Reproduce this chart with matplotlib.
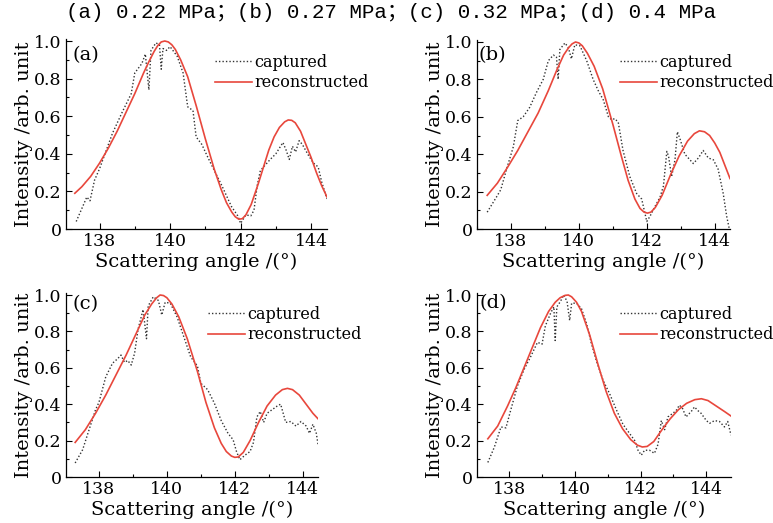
import matplotlib
matplotlib.use("Agg")
import matplotlib.pyplot as plt
from matplotlib.ticker import MultipleLocator, FixedLocator

# ---------------- data ----------------
title_text = "(a) 0.22 MPa；(b) 0.27 MPa；(c) 0.32 MPa；(d) 0.4 MPa"
panel_labels = ["(a)", "(b)", "(c)", "(d)"]
series_names = ["captured", "reconstructed"]
x_label = "Scattering angle /(°)"
y_label = "Intensity /arb. unit"
x_ticks = [138, 140, 142, 144]
y_ticks = [0, 0.2, 0.4, 0.6, 0.8, 1.0]
y_tick_labels = ["0", "0.2", "0.4", "0.6", "0.8", "1.0"]

# panel (a)
rec_a_x = [137.3, 137.5, 137.75, 138.0, 138.25, 138.5, 138.75, 139.0, 139.25, 139.4, 139.55, 139.65,
           139.75, 139.85, 139.95, 140.05, 140.15, 140.3, 140.5, 140.75, 141.0, 141.25, 141.45,
           141.6, 141.75, 141.85, 141.95, 142.05, 142.15, 142.3, 142.5, 142.65, 142.8, 142.95,
           143.1, 143.25, 143.35, 143.45, 143.55, 143.7, 143.85, 144.0, 144.15, 144.3, 144.45]
rec_a_y = [0.19, 0.225, 0.28, 0.35, 0.43, 0.52, 0.62, 0.72, 0.83, 0.89, 0.945, 0.975,
           0.995, 1.0, 0.995, 0.98, 0.955, 0.90, 0.81, 0.65, 0.48, 0.32, 0.21,
           0.14, 0.09, 0.065, 0.052, 0.055, 0.075, 0.13, 0.24, 0.33, 0.42, 0.49,
           0.54, 0.57, 0.58, 0.578, 0.565, 0.52, 0.45, 0.38, 0.30, 0.23, 0.17]
cap_a_x = [137.34, 137.64, 137.73, 137.86, 138.0, 138.37, 138.64, 138.9, 139.0, 139.2, 139.3, 139.4,
           139.46, 139.6, 139.7, 139.75, 139.8, 139.9, 140.0, 140.2, 140.37, 140.5, 140.65, 140.74,
           140.9, 141.1, 141.47, 141.74, 141.92, 142.0, 142.15, 142.29, 142.38, 142.47, 142.56,
           142.65, 142.84, 143.0, 143.2, 143.29, 143.38, 143.47, 143.56, 143.66, 143.75, 143.84,
           143.93, 144.07, 144.2, 144.3, 144.45]
cap_a_y = [0.04, 0.17, 0.15, 0.26, 0.32, 0.51, 0.62, 0.72, 0.83, 0.88, 0.93, 0.74,
           0.95, 0.99, 0.98, 0.85, 0.96, 0.95, 0.97, 0.92, 0.83, 0.65, 0.63, 0.49,
           0.45, 0.37, 0.23, 0.12, 0.07, 0.03, 0.075, 0.07, 0.10, 0.23, 0.31,
           0.33, 0.37, 0.40, 0.46, 0.42, 0.37, 0.44, 0.41, 0.47, 0.45, 0.42,
           0.39, 0.35, 0.33, 0.25, 0.16]

# panel (b)
rec_b_x = [137.3, 137.6, 137.9, 138.2, 138.5, 138.8, 139.1, 139.35, 139.55, 139.7, 139.8, 139.9,
           140.0, 140.1, 140.25, 140.45, 140.7, 141.0, 141.25, 141.45, 141.65, 141.8, 141.92,
           142.02, 142.12, 142.25, 142.45, 142.7, 142.95, 143.2, 143.4, 143.55, 143.7, 143.85,
           144.0, 144.15, 144.3, 144.45]
rec_b_y = [0.18, 0.245, 0.33, 0.42, 0.52, 0.62, 0.74, 0.85, 0.93, 0.97, 0.99, 1.0,
           0.995, 0.98, 0.94, 0.87, 0.75, 0.56, 0.39, 0.26, 0.16, 0.11, 0.09,
           0.085, 0.09, 0.115, 0.18, 0.29, 0.39, 0.47, 0.51, 0.525, 0.52, 0.50,
           0.46, 0.41, 0.34, 0.27]
cap_b_x = [137.3, 137.57, 137.7, 137.87, 138.07, 138.2, 138.36, 138.55, 138.75, 138.95, 139.1,
           139.25, 139.34, 139.39, 139.44, 139.59, 139.69, 139.78, 139.88, 140.03, 140.23, 140.42,
           140.57, 140.72, 140.87, 140.96, 141.06, 141.16, 141.3, 141.5, 141.7, 141.85, 142.0,
           142.1, 142.24, 142.39, 142.49, 142.59, 142.64, 142.73, 142.83, 142.9, 142.98, 143.12,
           143.27, 143.37, 143.52, 143.66, 143.81, 143.96, 144.1, 144.25, 144.35, 144.43]
cap_b_y = [0.09, 0.17, 0.21, 0.32, 0.44, 0.58, 0.60, 0.65, 0.73, 0.80, 0.90,
           0.93, 0.92, 0.80, 0.96, 0.995, 0.97, 0.91, 0.985, 0.98, 0.90, 0.80,
           0.74, 0.69, 0.60, 0.585, 0.59, 0.57, 0.42, 0.28, 0.19, 0.16, 0.04,
           0.07, 0.12, 0.17, 0.23, 0.415, 0.39, 0.28, 0.37, 0.52, 0.48, 0.40,
           0.37, 0.35, 0.38, 0.42, 0.38, 0.37, 0.32, 0.19, 0.07, 0.0]

# panel (c)
rec_c_x = [137.3, 137.6, 137.9, 138.2, 138.5, 138.8, 139.1, 139.35, 139.55, 139.7, 139.8, 139.9,
           140.0, 140.15, 140.35, 140.6, 140.9, 141.15, 141.4, 141.6, 141.75, 141.9, 142.0, 142.1,
           142.25, 142.45, 142.7, 142.95, 143.2, 143.4, 143.55, 143.7, 143.9, 144.1, 144.3, 144.45]
rec_c_y = [0.19, 0.26, 0.35, 0.45, 0.56, 0.67, 0.79, 0.89, 0.95, 0.985, 1.0, 0.997,
           0.985, 0.95, 0.88, 0.76, 0.58, 0.41, 0.27, 0.185, 0.14, 0.115, 0.108, 0.11,
           0.135, 0.20, 0.30, 0.39, 0.45, 0.48, 0.487, 0.48, 0.45, 0.40, 0.35, 0.32]
cap_c_x = [137.3, 137.52, 137.71, 137.9, 138.0, 138.2, 138.4, 138.55, 138.65, 138.75, 138.85,
           138.95, 139.05, 139.15, 139.3, 139.4, 139.45, 139.6, 139.75, 139.85, 139.95, 140.1,
           140.3, 140.5, 140.7, 140.9, 141.0, 141.2, 141.4, 141.6, 141.8, 141.95, 142.05, 142.15,
           142.3, 142.45, 142.55, 142.65, 142.75, 142.85, 142.95, 143.1, 143.25, 143.35, 143.5,
           143.65, 143.8, 143.95, 144.1, 144.2, 144.3, 144.4, 144.45]
cap_c_y = [0.077, 0.15, 0.26, 0.37, 0.41, 0.55, 0.625, 0.65, 0.67, 0.63, 0.64,
           0.615, 0.68, 0.81, 0.92, 0.76, 0.94, 0.99, 0.97, 0.89, 0.96, 0.955,
           0.88, 0.77, 0.66, 0.61, 0.515, 0.48, 0.405, 0.31, 0.24, 0.205, 0.14, 0.095,
           0.12, 0.14, 0.19, 0.33, 0.36, 0.30, 0.35, 0.37, 0.39, 0.40, 0.30,
           0.305, 0.28, 0.305, 0.28, 0.24, 0.29, 0.24, 0.18]

# panel (d)
rec_d_x = [137.35, 137.65, 137.95, 138.2, 138.45, 138.7, 138.95, 139.2, 139.4, 139.55, 139.7, 139.8,
           139.9, 140.05, 140.2, 140.45, 140.7, 140.95, 141.2, 141.45, 141.7, 141.9, 142.05, 142.2,
           142.4, 142.65, 142.9, 143.15, 143.4, 143.65, 143.85, 144.05, 144.3, 144.55, 144.75]
rec_d_y = [0.21, 0.28, 0.39, 0.49, 0.60, 0.71, 0.82, 0.91, 0.96, 0.985, 0.998, 1.0,
           0.99, 0.96, 0.91, 0.78, 0.62, 0.47, 0.35, 0.265, 0.205, 0.175, 0.165, 0.168,
           0.195, 0.26, 0.32, 0.37, 0.405, 0.425, 0.43, 0.42, 0.39, 0.36, 0.335]
cap_d_x = [137.35, 137.55, 137.75, 137.9, 138.05, 138.25, 138.45, 138.65, 138.86, 139.0, 139.1,
           139.26, 139.36, 139.4, 139.45, 139.56, 139.66, 139.76, 139.84, 139.9, 140.05, 140.2,
           140.35, 140.5, 140.65, 140.86, 141.05, 141.26, 141.46, 141.66, 141.82, 141.92, 142.02,
           142.12, 142.27, 142.42, 142.53, 142.63, 142.73, 142.83, 142.98, 143.08, 143.18, 143.28,
           143.38, 143.54, 143.64, 143.74, 143.84, 144.0, 144.1, 144.25, 144.4, 144.55, 144.65,
           144.75]
cap_d_y = [0.08, 0.165, 0.275, 0.27, 0.37, 0.50, 0.59, 0.66, 0.74, 0.73, 0.83,
           0.90, 0.935, 0.75, 0.935, 0.965, 1.0, 0.965, 0.86, 0.955, 0.955, 0.925,
           0.845, 0.735, 0.64, 0.53, 0.46, 0.37, 0.29, 0.24, 0.20, 0.147, 0.12,
           0.147, 0.147, 0.13, 0.18, 0.31, 0.26, 0.33, 0.35, 0.365, 0.395, 0.375,
           0.33, 0.36, 0.385, 0.365, 0.35, 0.31, 0.295, 0.31, 0.305, 0.275, 0.305,
           0.23]

panels = [
    (cap_a_x, cap_a_y, rec_a_x, rec_a_y),
    (cap_b_x, cap_b_y, rec_b_x, rec_b_y),
    (cap_c_x, cap_c_y, rec_c_x, rec_c_y),
    (cap_d_x, cap_d_y, rec_d_x, rec_d_y),
]

# ---------------- layout / style ----------------
W, H = 773, 523
plt.rcParams['font.family'] = ['DejaVu Serif']
plt.rcParams['mathtext.fontset'] = 'dejavuserif'

fig = plt.figure(figsize=(W / 100, H / 100), dpi=100)

# axes boxes in pixels: left, right, y(at 0), y(at 1.0)
boxes = [(66, 327, 229, 41), (477, 730, 229, 42), (66, 318, 477, 295), (477, 731, 477, 295)]
xlims = [(137.05, 144.45), (137.0, 144.45), (137.03, 144.45), (137.02, 144.75)]
legend_pos = [(215, 54), (620, 54), (208, 306), (620, 306)]
label_pos = [(72, 55), (478, 55), (73, 304), (479, 303)]

red = '#e8473c'
for i, (cx, cy, rx, ry) in enumerate(panels):
    l, r, y0, y1 = boxes[i]
    ymax = 1.01
    top = y0 - (y0 - y1) * ymax
    ax = fig.add_axes([l / W, 1 - y0 / H, (r - l) / W, (y0 - top) / H])
    ax.plot(cx, cy, color='#333333', lw=1.0, ls=(0, (1, 1.5)), label=series_names[0])
    ax.plot(rx, ry, color=red, lw=1.2, label=series_names[1], solid_joinstyle='round')
    ax.set_xlim(*xlims[i])
    ax.set_ylim(0, ymax)
    ax.spines['top'].set_visible(False)
    ax.spines['right'].set_visible(False)
    ax.spines['left'].set_linewidth(0.9)
    ax.spines['bottom'].set_linewidth(0.9)
    ax.xaxis.set_major_locator(FixedLocator(x_ticks))
    ax.xaxis.set_minor_locator(MultipleLocator(1))
    ax.yaxis.set_major_locator(FixedLocator(y_ticks))
    ax.yaxis.set_minor_locator(MultipleLocator(0.1))
    ax.set_yticklabels(y_tick_labels)
    ax.tick_params(which='both', direction='in', labelsize=12.5, width=0.8)
    ax.tick_params(which='major', length=4, pad=3)
    ax.tick_params(which='minor', length=2.5)
    ax.set_xlabel(x_label, fontsize=14, labelpad=2)
    ax.set_ylabel(y_label, fontsize=14, labelpad=1)
    lx, ly = legend_pos[i]
    ax.legend(loc='upper left', bbox_to_anchor=(lx / W, 1 - ly / H), bbox_transform=fig.transFigure,
              frameon=False, fontsize=11.5, handlelength=2.3, handletextpad=0.15,
              borderpad=0, borderaxespad=0, labelspacing=0.2)
    px, py = label_pos[i]
    fig.text(px / W, 1 - py / H, panel_labels[i], fontsize=14, ha='left', va='center')

fig.text(0.506, 1 - 13 / H, title_text, fontsize=15, ha='center', va='center',
         family=['Liberation Mono', 'Noto Sans CJK SC'])

fig.savefig('out.png', dpi=100)
